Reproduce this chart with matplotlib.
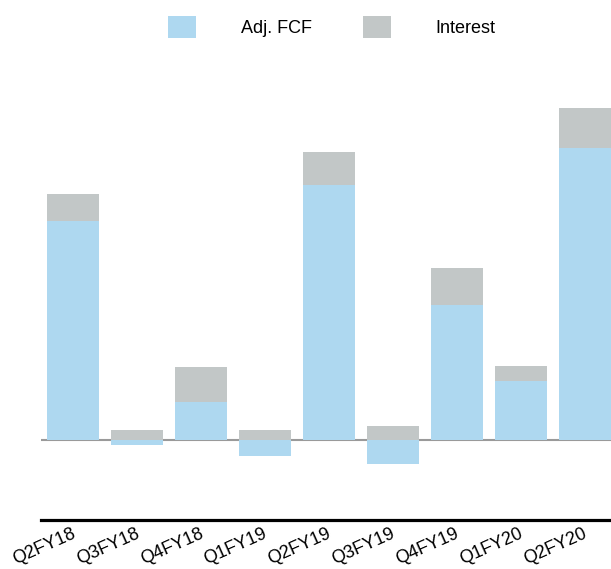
import matplotlib.pyplot as plt
import matplotlib.transforms as mtransforms
from matplotlib.patches import Patch

plt.rcParams['font.family'] = ['Liberation Sans', 'DejaVu Sans']

quarters = ['Q2FY18', 'Q3FY18', 'Q4FY18', 'Q1FY19', 'Q2FY19',
            'Q3FY19', 'Q4FY19', 'Q1FY20', 'Q2FY20']
adj_fcf = [218.5, -5.5, 37.5, -16.5, 254.5, -24.5, 134.5, 58.5, 291.5]
interest = [27, 9.5, 35, 9.5, 33, 13.5, 37, 15, 40]

blue = '#AED8F0'
grey = '#C2C7C7'

fig = plt.figure(figsize=(6.11, 5.69), dpi=100)
ax = fig.add_axes([41 / 611, 49 / 569, 570 / 611, 460 / 569])

x = list(range(len(quarters)))
# interest sits on top of positive FCF, or on the zero line when FCF is negative
base = [max(v, 0) for v in adj_fcf]
ax.bar(x, adj_fcf, width=0.81, color=blue, zorder=2)
ax.bar(x, interest, bottom=base, width=0.81, color=grey, zorder=2)
ax.axhline(0, color='#9a9a9a', linewidth=1.5, zorder=1)

ax.set_xlim(-0.5, 8.41)
ax.set_ylim(-80.5, 379.5)
ax.set_yticks([])
ax.set_xticks(x)
ax.set_xticklabels(quarters, rotation=24, ha='right', va='top',
                   rotation_mode='anchor', fontsize=13)
ax.tick_params(axis='x', length=0, pad=4)
# nudge the rotated labels a touch to the left
shift = mtransforms.ScaledTranslation(-0.02, 0, fig.dpi_scale_trans)
for lbl in ax.get_xticklabels():
    lbl.set_transform(lbl.get_transform() + shift)
for side in ['top', 'left', 'right']:
    ax.spines[side].set_visible(False)
ax.spines['bottom'].set_linewidth(2.3)
ax.spines['bottom'].set_color('black')

handles = [Patch(facecolor=blue, edgecolor='none'),
           Patch(facecolor=grey, edgecolor='none')]
fig.legend(handles, ['Adj. FCF', 'Interest'], ncol=2, loc='center',
           bbox_to_anchor=(0.543, 0.9525), frameon=False, fontsize=13,
           handlelength=1.55, handleheight=1.5, handletextpad=2.5,
           columnspacing=2.8)

fig.savefig('out.png', dpi=100)
